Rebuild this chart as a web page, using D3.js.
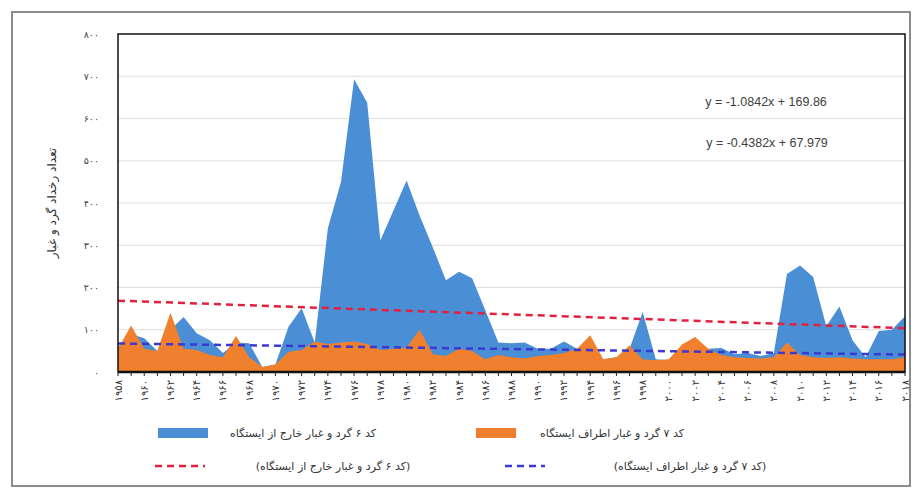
<!DOCTYPE html>
<html>
<head>
<meta charset="utf-8">
<script src="https://cdn.jsdelivr.net/npm/d3@7.9.0/dist/d3.min.js"></script>
<style>
  body { margin: 0; background: #fff; }
  svg { display: block; }
</style>
</head>
<body>
<svg id="chart" width="914" height="488"></svg>
<script>
// years 1958..2018, one value per year
const years = d3.range(1958, 2019);
const code6 = [60, 90, 80, 50, 100, 130, 92, 75, 45, 70,
  68, 12, 18, 107, 151, 70, 340, 450, 693, 637,
  311, 382, 453, 370, 295, 217, 237, 222, 146, 70,
  68, 70, 55, 55, 72, 55, 60, 30, 35, 55,
  142, 30, 28, 55, 70, 55, 57, 42, 45, 38,
  45, 232, 252, 225, 108, 155, 75, 35, 97, 100, 132];
const code7 = [55, 110, 55, 50, 140, 55, 52, 40, 35, 85,
  35, 12, 18, 48, 52, 72, 66, 70, 72, 66,
  52, 55, 58, 100, 42, 38, 55, 50, 30, 40,
  35, 32, 38, 40, 45, 55, 87, 30, 35, 63,
  30, 28, 30, 65, 83, 55, 40, 35, 33, 32,
  35, 70, 40, 35, 33, 35, 32, 30, 30, 30, 35];
// trend line equations printed on the chart (x = 1..n)
const trend6 = { slope: -1.0842, intercept: 169.86 };
const trend7 = { slope: -0.4382, intercept: 67.979 };
const yTicks = [0, 100, 200, 300, 400, 500, 600, 700, 800];
const seriesNames = ['کد ۶ گرد و غبار خارج از ایستگاه', 'کد ۷ گرد و غبار اطراف ایستگاه'];
const trendNames = ['(کد ۶ گرد و غبار خارج از ایستگاه)', '(کد ۷ گرد و غبار اطراف ایستگاه)'];
const yTitle = 'تعداد رخداد گرد و غبار';

const fa = (n) => String(n).replace(/\d/g, (d) => '۰۱۲۳۴۵۶۷۸۹'[d]);

const svg = d3.select('#chart');
const plot = { left: 118, right: 905, top: 34, bottom: 372 };

const x = d3.scaleLinear().domain([0, years.length - 1]).range([plot.left, plot.right]);
const y = d3.scaleLinear().domain([0, 800]).range([plot.bottom, plot.top]);

// outer frame
svg.append('rect')
  .attr('x', 12).attr('y', 12).attr('width', 898).attr('height', 474)
  .attr('fill', '#fff').attr('stroke', '#8c8c8c').attr('stroke-width', 2);

// gridlines
svg.append('g')
  .selectAll('line')
  .data(yTicks.filter((d) => d > 0 && d < 800))
  .join('line')
  .attr('x1', plot.left).attr('x2', plot.right)
  .attr('y1', (d) => y(d)).attr('y2', (d) => y(d))
  .attr('stroke', '#dedede').attr('stroke-width', 1);

const area = (vals) => d3.area()
  .x((d, i) => x(i))
  .y0(y(0))
  .y1((d) => y(d))(vals);

svg.append('path').attr('d', area(code6)).attr('fill', '#4a8fd5');
svg.append('path').attr('d', area(code7)).attr('fill', '#f07f2e');

// trend lines
const trendLine = (t, color) => {
  const n = years.length;
  svg.append('line')
    .attr('x1', x(0)).attr('y1', y(t.intercept + t.slope * 1))
    .attr('x2', x(n - 1)).attr('y2', y(t.intercept + t.slope * n))
    .attr('stroke', color).attr('stroke-width', 2.5)
    .attr('stroke-dasharray', '7,5');
};
trendLine(trend6, '#e3203f');
trendLine(trend7, '#3a3ad2');

// plot frame
svg.append('rect')
  .attr('x', plot.left).attr('y', plot.top)
  .attr('width', plot.right - plot.left).attr('height', plot.bottom - plot.top)
  .attr('fill', 'none').attr('stroke', '#111').attr('stroke-width', 1.5);

// x axis
const xAxis = svg.append('g').attr('transform', `translate(0,${plot.bottom})`);
xAxis.append('line').attr('x1', plot.left).attr('x2', plot.right)
  .attr('stroke', '#111').attr('stroke-width', 2.5);
xAxis.selectAll('.tick')
  .data(years)
  .join('line')
  .attr('class', 'tick')
  .attr('x1', (d, i) => x(i)).attr('x2', (d, i) => x(i))
  .attr('y1', 0).attr('y2', 4)
  .attr('stroke', '#222').attr('stroke-width', 1);
xAxis.selectAll('.lbl')
  .data(years.filter((d, i) => i % 2 === 0))
  .join('text')
  .attr('class', 'lbl')
  .attr('transform', (d) => `translate(${x(years.indexOf(d)) + 3.5},8) rotate(-90)`)
  .attr('text-anchor', 'end')
  .attr('font-family', 'DejaVu Sans')
  .attr('font-size', 10)
  .attr('fill', '#333')
  .text((d) => fa(d));

// y labels
svg.append('g')
  .selectAll('text')
  .data(yTicks)
  .join('text')
  .attr('x', 99).attr('y', (d) => y(d) + 3.5)
  .attr('text-anchor', 'end')
  .attr('font-family', 'DejaVu Sans')
  .attr('font-size', 9.5)
  .attr('fill', '#444')
  .text((d) => fa(d));

svg.append('text')
  .attr('transform', 'translate(56,203) rotate(-90)')
  .attr('text-anchor', 'middle')
  .attr('font-family', 'DejaVu Sans')
  .attr('font-size', 12)
  .attr('fill', '#333')
  .attr('direction', 'rtl')
  .text(yTitle);

// equations
const eq = (t) => `y = ${t.slope}x + ${t.intercept}`;
svg.append('text').attr('x', 766).attr('y', 106)
  .attr('text-anchor', 'middle').attr('font-family', 'Liberation Sans')
  .attr('font-size', 12.5).attr('fill', '#404040').text(eq(trend6));
svg.append('text').attr('x', 767).attr('y', 147)
  .attr('text-anchor', 'middle').attr('font-family', 'Liberation Sans')
  .attr('font-size', 12.5).attr('fill', '#404040').text(eq(trend7));

// legend
const lg = svg.append('g').attr('font-family', 'DejaVu Sans').attr('font-size', 11).attr('fill', '#333');
lg.append('rect').attr('x', 158).attr('y', 428).attr('width', 50).attr('height', 10).attr('fill', '#4a8fd5');
lg.append('text').attr('x', 303).attr('y', 437).attr('text-anchor', 'middle').attr('direction', 'rtl').text(seriesNames[0]);
lg.append('rect').attr('x', 476).attr('y', 428).attr('width', 40).attr('height', 10).attr('fill', '#f07f2e');
lg.append('text').attr('x', 612).attr('y', 437).attr('text-anchor', 'middle').attr('direction', 'rtl').text(seriesNames[1]);
lg.append('line').attr('x1', 155).attr('x2', 205).attr('y1', 466).attr('y2', 466)
  .attr('stroke', '#e3203f').attr('stroke-width', 2.5).attr('stroke-dasharray', '7,5');
lg.append('text').attr('x', 333).attr('y', 470).attr('text-anchor', 'middle').attr('direction', 'rtl').text(trendNames[0]);
lg.append('line').attr('x1', 505).attr('x2', 545).attr('y1', 466).attr('y2', 466)
  .attr('stroke', '#3a3ad2').attr('stroke-width', 2.5).attr('stroke-dasharray', '7,5');
lg.append('text').attr('x', 690).attr('y', 470).attr('text-anchor', 'middle').attr('direction', 'rtl').text(trendNames[1]);
</script>
</body>
</html>
